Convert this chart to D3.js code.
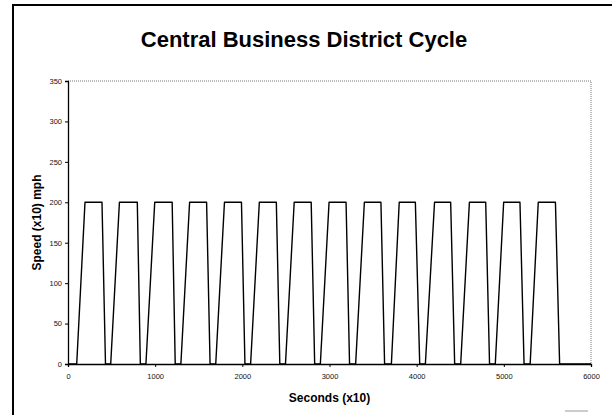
<!DOCTYPE html>
<html>
<head>
<meta charset="utf-8">
<script src="https://cdn.jsdelivr.net/npm/d3@7"></script>
<style>
  html, body { margin: 0; background: #fff; overflow: hidden; }
  svg { display: block; font-family: "Liberation Sans", Arial, sans-serif; }
</style>
</head>
<body>
<div id="chart"></div>
<script>
// speed trace (time in s x10, speed in mph x10)
const timeValues = [
  0,
  100, 195, 390, 430,
  490, 590, 795, 830,
  894, 995, 1195, 1230,
  1295, 1395, 1590, 1630,
  1695, 1795, 1990, 2030,
  2095, 2195, 2390, 2430,
  2495, 2595, 2790, 2830,
  2895, 2995, 3190, 3230,
  3300, 3400, 3590, 3632,
  3710, 3800, 3985, 4035,
  4100, 4205, 4390, 4436,
  4505, 4605, 4792, 4836,
  4902, 4998, 5185, 5232,
  5302, 5395, 5592, 5640,
  6000
];
const speedValues = [
  0,
  0, 200, 200, 0,
  0, 200, 200, 0,
  0, 200, 200, 0,
  0, 200, 200, 0,
  0, 200, 200, 0,
  0, 200, 200, 0,
  0, 200, 200, 0,
  0, 200, 200, 0,
  0, 200, 200, 0,
  0, 200, 200, 0,
  0, 200, 200, 0,
  0, 200, 200, 0,
  0, 200, 200, 0,
  0, 200, 200, 0,
  0
];
const xTicks = [0, 1000, 2000, 3000, 4000, 5000, 6000];
const yTicks = [0, 50, 100, 150, 200, 250, 300, 350];

const width = 612, height = 415;
const plotLeft = 68, plotRight = 591, plotTop = 81, plotBottom = 364;

const svg = d3.select("#chart").append("svg")
  .attr("width", width).attr("height", height);

// outer chart frame (runs off the right and bottom of the picture)
svg.append("rect")
  .attr("x", 13).attr("y", 5)
  .attr("width", 640).attr("height", 440)
  .attr("fill", "none").attr("stroke", "#000").attr("stroke-width", 2);

svg.append("line")
  .attr("x1", 565).attr("x2", 588).attr("y1", 411).attr("y2", 411)
  .attr("stroke", "#bbb").attr("stroke-width", 1.5);

const x = d3.scaleLinear().domain([0, 6000]).range([plotLeft, plotRight]);
const y = d3.scaleLinear().domain([0, 350]).range([plotBottom, plotTop]);

// plot border, dotted on top and right
svg.append("path")
  .attr("d", `M${plotLeft},${plotTop}H${plotRight}V${plotBottom}`)
  .attr("fill", "none").attr("stroke", "#777")
  .attr("stroke-width", 1).attr("stroke-dasharray", "1,1");

const xAxis = svg.append("g")
  .attr("transform", `translate(0,${plotBottom})`)
  .call(d3.axisBottom(x).tickValues(xTicks).tickSize(3).tickPadding(7).tickFormat(d3.format("d")));
const yAxis = svg.append("g")
  .attr("transform", `translate(${plotLeft},0)`)
  .call(d3.axisLeft(y).tickValues(yTicks).tickSize(3).tickPadding(3));

[xAxis, yAxis].forEach(g => {
  g.select(".domain").attr("stroke", "#000").attr("stroke-width", 1.3);
  g.selectAll(".tick line").attr("stroke", "#000");
  g.selectAll(".tick text")
    .attr("font-family", "Liberation Sans, Arial, sans-serif")
    .attr("font-size", 7.5).attr("fill", "#111");
});

const points = timeValues.map((t, i) => [t, speedValues[i]]);
const line = d3.line().x(d => x(d[0])).y(d => y(d[1]));

svg.append("path")
  .datum(points)
  .attr("d", line)
  .attr("fill", "none")
  .attr("stroke", "#000")
  .attr("stroke-width", 1.4)
  .attr("stroke-linejoin", "round");

// titles
svg.append("text")
  .attr("x", 304).attr("y", 47)
  .attr("text-anchor", "middle")
  .attr("font-size", 22).attr("font-weight", "bold")
  .text("Central Business District Cycle");

svg.append("text")
  .attr("x", (plotLeft + plotRight) / 2).attr("y", 402)
  .attr("text-anchor", "middle")
  .attr("font-size", 12).attr("font-weight", "bold")
  .text("Seconds (x10)");

svg.append("text")
  .attr("transform", `translate(41,${(plotTop + plotBottom) / 2}) rotate(-90)`)
  .attr("text-anchor", "middle")
  .attr("font-size", 12).attr("font-weight", "bold")
  .text("Speed (x10) mph");
</script>
</body>
</html>
